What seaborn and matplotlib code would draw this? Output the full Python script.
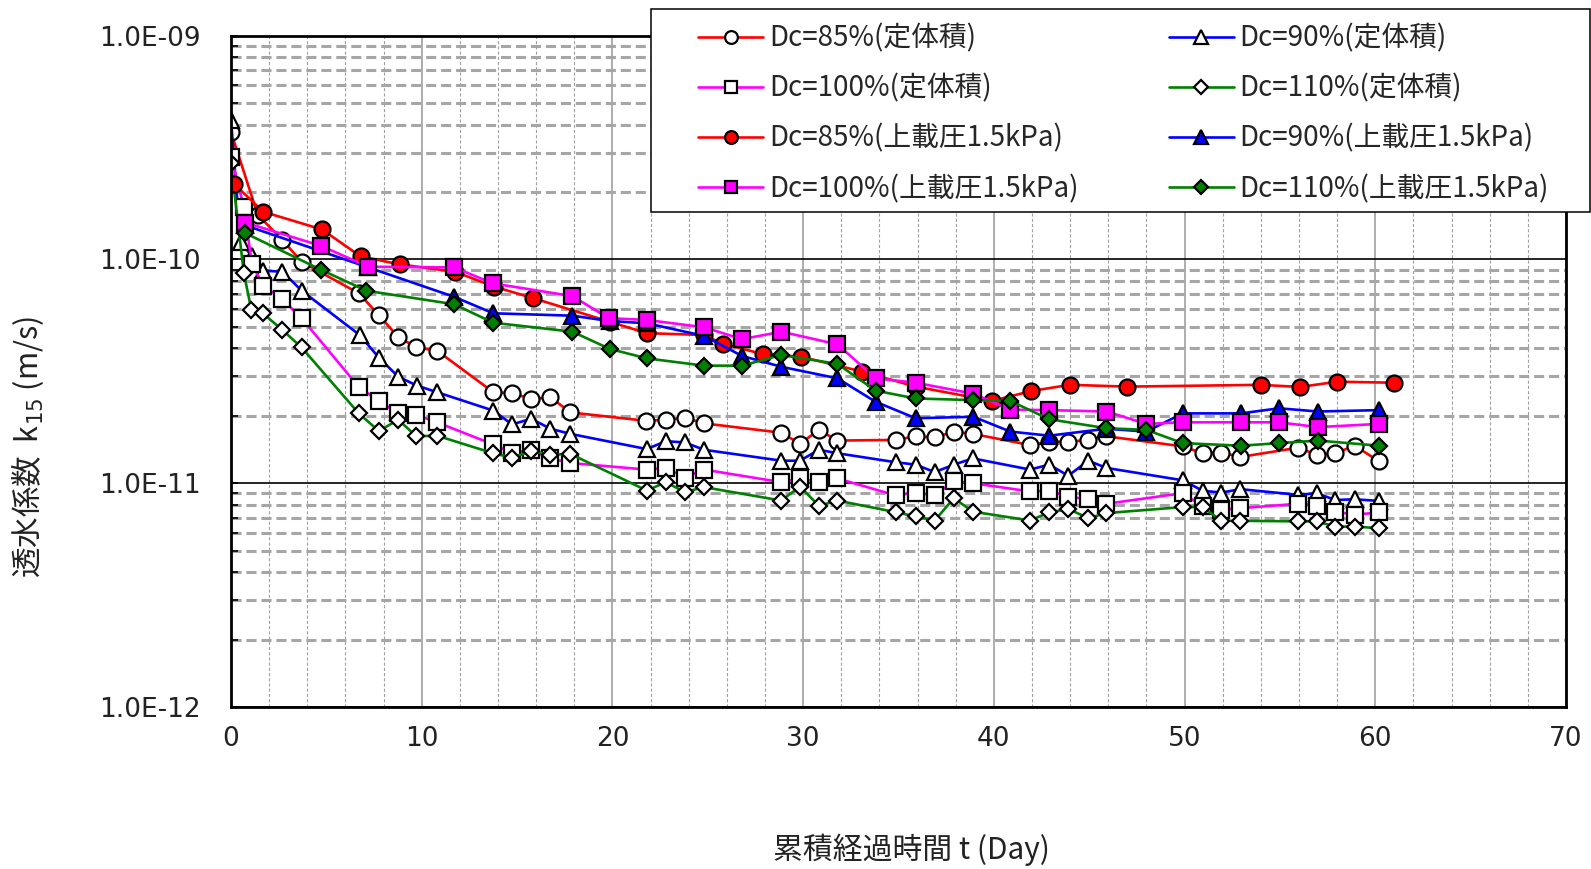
import numpy as np
import pandas as pd
import matplotlib
matplotlib.use("Agg")
import matplotlib.pyplot as plt
import seaborn as sns
from matplotlib.ticker import MultipleLocator, LogLocator, NullFormatter
from matplotlib.patches import Rectangle

# ---------------- data ----------------
days_85c = [0, 1.4, 2.7, 3.7, 6.7, 7.75, 8.75, 9.72, 10.8, 13.75, 14.75, 15.75, 16.75, 17.8,
            21.75, 22.8, 23.8, 24.8, 28.86, 29.83, 30.83, 31.8, 34.86, 35.9, 36.9, 37.9, 38.9,
            41.9, 42.9, 43.9, 44.95, 45.9, 49.9, 50.95, 51.93, 52.93, 55.95, 56.93, 57.9, 58.93, 60.2]
k_85c = [3.71e-10, 1.58e-10, 1.22e-10, 9.75e-11, 7.05e-11, 5.64e-11, 4.51e-11, 4.04e-11, 3.91e-11,
         2.55e-11, 2.52e-11, 2.38e-11, 2.42e-11, 2.07e-11, 1.90e-11, 1.92e-11, 1.96e-11, 1.85e-11,
         1.68e-11, 1.50e-11, 1.73e-11, 1.55e-11, 1.56e-11, 1.62e-11, 1.60e-11, 1.70e-11, 1.66e-11,
         1.48e-11, 1.53e-11, 1.53e-11, 1.56e-11, 1.62e-11, 1.46e-11, 1.36e-11, 1.37e-11, 1.31e-11,
         1.44e-11, 1.34e-11, 1.36e-11, 1.47e-11, 1.25e-11]

days_90c = [0, 0.5, 1.1, 1.7, 2.7, 3.7, 6.75, 7.75, 8.77, 9.74, 10.8, 13.75, 14.74, 15.74, 16.75, 17.8,
            21.8, 22.8, 23.8, 24.8, 28.86, 29.83, 30.83, 31.8, 34.86, 35.9, 36.9, 37.9, 38.9,
            41.9, 42.9, 43.9, 44.95, 45.9, 49.9, 50.95, 51.93, 52.93, 55.95, 56.93, 57.9, 58.93, 60.2]
k_90c = [4.18e-10, 1.20e-10, 1.03e-10, 8.9e-11, 8.8e-11, 7.25e-11, 4.59e-11, 3.64e-11, 2.99e-11,
         2.73e-11, 2.55e-11, 2.11e-11, 1.83e-11, 1.94e-11, 1.75e-11, 1.66e-11, 1.42e-11, 1.54e-11,
         1.52e-11, 1.41e-11, 1.26e-11, 1.26e-11, 1.41e-11, 1.36e-11, 1.24e-11, 1.21e-11, 1.12e-11,
         1.21e-11, 1.29e-11, 1.15e-11, 1.21e-11, 1.08e-11, 1.26e-11, 1.17e-11, 1.03e-11, 9.25e-12,
         9.08e-12, 9.4e-12, 8.87e-12, 9.02e-12, 8.41e-12, 8.47e-12, 8.33e-12]

days_100c = [0, 0.67, 1.1, 1.7, 2.7, 3.7, 6.7, 7.75, 8.77, 9.72, 10.8, 13.75, 14.74, 15.74, 16.75, 17.8,
             21.8, 22.8, 23.8, 24.8, 28.86, 29.83, 30.83, 31.8, 34.86, 35.9, 36.9, 37.9, 38.9,
             41.9, 42.9, 43.9, 44.95, 45.9, 49.9, 50.95, 51.93, 52.93, 55.95, 56.93, 57.9, 58.93, 60.2]
k_100c = [2.87e-10, 1.72e-10, 9.5e-11, 7.62e-11, 6.62e-11, 5.46e-11, 2.69e-11, 2.33e-11, 2.05e-11,
          2.02e-11, 1.87e-11, 1.49e-11, 1.36e-11, 1.41e-11, 1.29e-11, 1.23e-11, 1.15e-11, 1.17e-11,
          1.06e-11, 1.15e-11, 1.01e-11, 1.05e-11, 1.01e-11, 1.05e-11, 8.81e-12, 9.08e-12, 8.81e-12,
          1.02e-11, 1.0e-11, 9.18e-12, 9.25e-12, 8.71e-12, 8.47e-12, 8.09e-12, 9.02e-12, 7.87e-12,
          7.60e-12, 7.73e-12, 8.09e-12, 7.87e-12, 7.46e-12, 7.23e-12, 7.40e-12]

days_110c = [0, 0.67, 1.07, 1.67, 2.7, 3.7, 6.7, 7.75, 8.77, 9.72, 10.8, 13.75, 14.74, 15.74, 16.75, 17.8,
             21.8, 22.8, 23.8, 24.8, 28.86, 29.83, 30.83, 31.8, 34.86, 35.9, 36.9, 37.9, 38.9,
             41.9, 42.9, 43.9, 44.95, 45.9, 49.9, 50.95, 51.93, 52.93, 55.95, 56.93, 57.9, 58.93, 60.2]
k_110c = [2.70e-10, 8.7e-11, 5.94e-11, 5.74e-11, 4.83e-11, 4.04e-11, 2.05e-11, 1.71e-11, 1.92e-11,
          1.62e-11, 1.63e-11, 1.36e-11, 1.30e-11, 1.39e-11, 1.34e-11, 1.35e-11, 9.27e-12, 1.01e-11,
          9.12e-12, 9.6e-12, 8.36e-12, 9.66e-12, 7.92e-12, 8.36e-12, 7.42e-12, 7.10e-12, 6.81e-12,
          8.57e-12, 7.46e-12, 6.81e-12, 7.40e-12, 7.67e-12, 6.98e-12, 7.35e-12, 7.82e-12, 7.82e-12,
          6.79e-12, 6.79e-12, 6.75e-12, 6.75e-12, 6.40e-12, 6.40e-12, 6.29e-12]

days_85p = [0.16, 1.7, 4.77, 6.8, 8.84, 11.75, 13.8, 15.86, 19.86, 21.8, 24.8, 25.8, 27.9, 29.9,
            33.1, 35.9, 39.9, 41.96, 43.98, 47.0, 54.0, 56.05, 58.0, 61.0]
k_85p = [2.17e-10, 1.63e-10, 1.36e-10, 1.03e-10, 9.5e-11, 8.8e-11, 7.55e-11, 6.7e-11, 5.26e-11,
         4.68e-11, 4.59e-11, 4.19e-11, 3.77e-11, 3.67e-11, 3.15e-11, 2.70e-11, 2.33e-11, 2.58e-11,
         2.75e-11, 2.70e-11, 2.75e-11, 2.69e-11, 2.84e-11, 2.81e-11]

days_90p = [0.74, 7.2, 11.7, 13.75, 17.9, 19.86, 21.8, 24.8, 26.8, 28.86, 31.8, 33.8, 35.9, 38.93,
            40.86, 42.9, 45.9, 48.0, 49.9, 52.96, 54.95, 57.0, 60.2]
k_90p = [1.42e-10, 9.2e-11, 6.8e-11, 5.74e-11, 5.6e-11, 5.3e-11, 5.18e-11, 4.55e-11, 3.70e-11,
         3.31e-11, 2.94e-11, 2.31e-11, 1.95e-11, 1.98e-11, 1.70e-11, 1.63e-11, 1.75e-11, 1.70e-11,
         2.05e-11, 2.05e-11, 2.16e-11, 2.09e-11, 2.12e-11]

days_100p = [0.74, 4.7, 7.2, 11.7, 13.75, 17.9, 19.8, 21.8, 24.8, 26.8, 28.86, 31.8, 33.8, 35.9,
             38.93, 40.86, 42.9, 45.9, 48.0, 49.9, 52.96, 54.95, 57.0, 60.2]
k_100p = [1.46e-10, 1.15e-10, 9.27e-11, 9.2e-11, 7.8e-11, 6.85e-11, 5.46e-11, 5.36e-11, 4.97e-11,
          4.40e-11, 4.75e-11, 4.17e-11, 2.94e-11, 2.81e-11, 2.51e-11, 2.13e-11, 2.12e-11, 2.09e-11,
          1.84e-11, 1.87e-11, 1.87e-11, 1.87e-11, 1.78e-11, 1.84e-11]

days_110p = [0.74, 4.7, 7.1, 11.7, 13.75, 17.9, 19.86, 21.8, 24.8, 26.8, 28.86, 31.8, 33.8, 35.9,
             38.93, 40.86, 42.9, 45.9, 48.0, 49.9, 52.96, 54.95, 57.0, 60.2]
k_110p = [1.31e-10, 9.0e-11, 7.24e-11, 6.3e-11, 5.21e-11, 4.75e-11, 3.98e-11, 3.61e-11, 3.35e-11,
          3.35e-11, 3.74e-11, 3.41e-11, 2.59e-11, 2.39e-11, 2.35e-11, 2.33e-11, 1.93e-11, 1.76e-11,
          1.73e-11, 1.51e-11, 1.47e-11, 1.51e-11, 1.55e-11, 1.47e-11]

labels = ["Dc=85%(定体積)", "Dc=90%(定体積)", "Dc=100%(定体積)", "Dc=110%(定体積)",
          "Dc=85%(上載圧1.5kPa)", "Dc=90%(上載圧1.5kPa)", "Dc=100%(上載圧1.5kPa)", "Dc=110%(上載圧1.5kPa)"]

ytick_vals = [1e-12, 1e-11, 1e-10, 1e-9]
ytick_labels = ["1.0E-12", "1.0E-11", "1.0E-10", "1.0E-09"]
xtick_vals = [0, 10, 20, 30, 40, 50, 60, 70]

# ---------------- styling ----------------
sns.set_theme(style="white")
plt.rcParams['font.family'] = ['Noto Sans CJK JP', 'DejaVu Sans']
plt.rcParams['axes.unicode_minus'] = False

W, H = 1591, 869
fig = plt.figure(figsize=(W / 100, H / 100), dpi=100)
fig.patch.set_facecolor("white")
ax = fig.add_axes([231 / W, 1 - 707 / H, (1566 - 231) / W, (707 - 35.5) / H])
ax.set_facecolor("white")

series = [
    (days_85c, k_85c, "o", 11.5, "#ff0000", "white"),
    (days_90c, k_90c, "^", 12.0, "#0000ff", "white"),
    (days_100c, k_100c, "s", 11.0, "#ff00ff", "white"),
    (days_110c, k_110c, "D", 8.6, "#008000", "white"),
    (days_85p, k_85p, "o", 11.5, "#ff0000", "#ff0000"),
    (days_90p, k_90p, "^", 12.0, "#0000ff", "#0000ff"),
    (days_100p, k_100p, "s", 11.0, "#ff00ff", "#ff00ff"),
    (days_110p, k_110p, "D", 8.6, "#008000", "#008000"),
]

for (d, k, mk, ms, lc, fc), lab in zip(series, labels):
    df = pd.DataFrame({"day": d, "k": k})
    sns.lineplot(data=df, x="day", y="k", ax=ax, estimator=None, sort=False,
                 color=lc, linewidth=1.9, marker=mk, markersize=ms,
                 markerfacecolor=fc, markeredgecolor="black", markeredgewidth=1.6,
                 label=lab, legend=False)

ax.set_yscale("log")
ax.set_ylim(1e-12, 1e-9)
ax.set_xlim(0, 70)

ax.set_xticks(xtick_vals)
ax.set_xticklabels([str(v) for v in xtick_vals])
ax.xaxis.set_minor_locator(MultipleLocator(2))
ax.set_yticks(ytick_vals)
ax.set_yticklabels(ytick_labels)
ax.yaxis.set_minor_locator(LogLocator(base=10, subs=np.arange(2, 10), numticks=20))
ax.yaxis.set_minor_formatter(NullFormatter())

for lbl in ax.get_yticklabels() + ax.get_xticklabels():
    lbl.set_fontfamily("DejaVu Sans")
    lbl.set_fontsize(19)
    lbl.set_color("#222222")

ax.tick_params(axis="y", which="both", direction="in", left=True, pad=21.6,
               length=5, width=1.2, color="black")
ax.tick_params(axis="x", which="both", direction="in", bottom=False, length=0, pad=14)

ax.set_axisbelow(True)
ax.grid(False)
ax.yaxis.grid(True, which="major", color="black", linewidth=1.2, linestyle="-")
ax.yaxis.grid(True, which="minor", color="#a6a6a6", linewidth=2.2, linestyle=(0, (3.3, 1.6)))
ax.xaxis.grid(True, which="major", color="#a0a0a0", linewidth=1.2, linestyle="-")
ax.xaxis.grid(True, which="minor", color="#a0a0a0", linewidth=0.8, linestyle=(0, (2.8, 1.9)))

for sp in ax.spines.values():
    sp.set_visible(True)
    sp.set_color("black")
    sp.set_linewidth(2.0)

ax.set_xlabel("累積経過時間 t (Day)", fontsize=21.5, color="#222222")
ax.xaxis.set_label_coords(0.51, -0.213)
ax.xaxis.label.set_va("center")
ax.set_ylabel("透水係数  k$_{15}$ (m/s)", fontsize=22, color="#222222")
ax.yaxis.set_label_coords(-0.152, 0.388)
ax.yaxis.label.set_va("center")
ax.yaxis.label.set_ha("center")

# legend (row-major order in two columns)
handles, labs = ax.get_legend_handles_labels()
order = [0, 2, 4, 6, 1, 3, 5, 7]
frame = Rectangle((651 / W, 1 - 212 / H), 939 / W, 203 / H, transform=fig.transFigure,
                  facecolor="white", edgecolor="black", linewidth=1.1, zorder=4)
fig.add_artist(frame)
leg = fig.legend([handles[i] for i in order], [labs[i] for i in order], ncol=2,
                 loc="upper left", bbox_to_anchor=(687 / W, 1 - 12.2 / H),
                 bbox_transform=fig.transFigure, frameon=False, fontsize=20,
                 handlelength=2.35, handletextpad=0.2, columnspacing=3.25,
                 labelspacing=0.73, borderpad=0.4, borderaxespad=0.0, markerscale=0.8)
leg.set_zorder(5)

fig.savefig("out.png", dpi=100, facecolor="white")
